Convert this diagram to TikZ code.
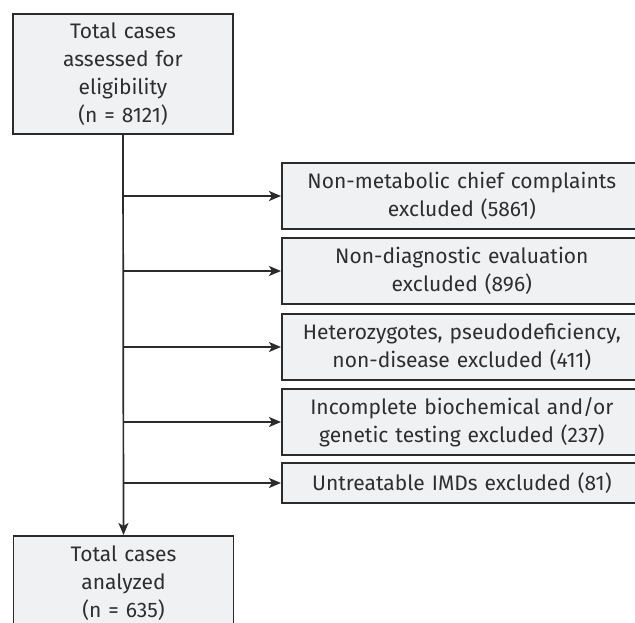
\documentclass[tikz,border=0pt]{standalone}
\usepackage{fontspec}
\setmainfont{Fira Sans}
\usepackage{xcolor}
\usetikzlibrary{positioning,arrows.meta,calc}

\definecolor{boxfill}{HTML}{F0F1F3}
\definecolor{boxline}{HTML}{2B2B2B}
\definecolor{txtcol}{HTML}{2E2E2E}

\begin{document}
\begin{tikzpicture}[
  x=1pt, y=-1pt,
  font=\fontsize{21}{28}\selectfont,
  >={Stealth[length=12pt, width=10pt, inset=3pt]},
  mainbox/.style={draw=boxline, line width=1.7pt, fill=boxfill, text=txtcol, minimum width=220pt, minimum height=120pt, text width=210pt, align=center, inner sep=0pt},
  exbox/.style={draw=boxline, line width=1.7pt, fill=boxfill, text=txtcol, minimum width=360pt, text width=350pt, align=center, inner sep=0pt, anchor=west},
  link/.style={->, line width=1.7pt, boxline},
]
\useasboundingbox (0,0) rectangle (635,623);
\clip (0,0) rectangle (635,623);

% Totals
\node[mainbox] (total) at (123,74) {Total cases\\assessed for\\eligibility\\(n = 8121)};
\node[mainbox, anchor=north] (analyzed) at (123.5,535) {Total cases\\analyzed\\(n = 635)\\\mbox{}};

% Exclusions
\node[exbox, minimum height=66pt] (ex1) at (281,196) {Non-metabolic chief complaints\\excluded (5861)};
\node[exbox, minimum height=66pt] (ex2) at (281,271) {Non-diagnostic evaluation\\excluded (896)};
\node[exbox, minimum height=66pt] (ex3) at (281,347) {Heterozygotes, pseudodeficiency,\\non-disease excluded (411)};
\node[exbox, minimum height=66pt] (ex4) at (281,422) {Incomplete biochemical and/or\\genetic testing excluded (237)};
\node[exbox, minimum height=40pt] (ex5) at (281,483) {Untreatable IMDs excluded (81)};

% trunk
\draw[link] (total.south) -- (analyzed.north);

% branches to exclusions
\foreach \i in {1,...,5} {
  \coordinate (t\i) at (total.south |- ex\i.west);
  \draw[link] (t\i) -- (ex\i.west);
}

\end{tikzpicture}
\end{document}
